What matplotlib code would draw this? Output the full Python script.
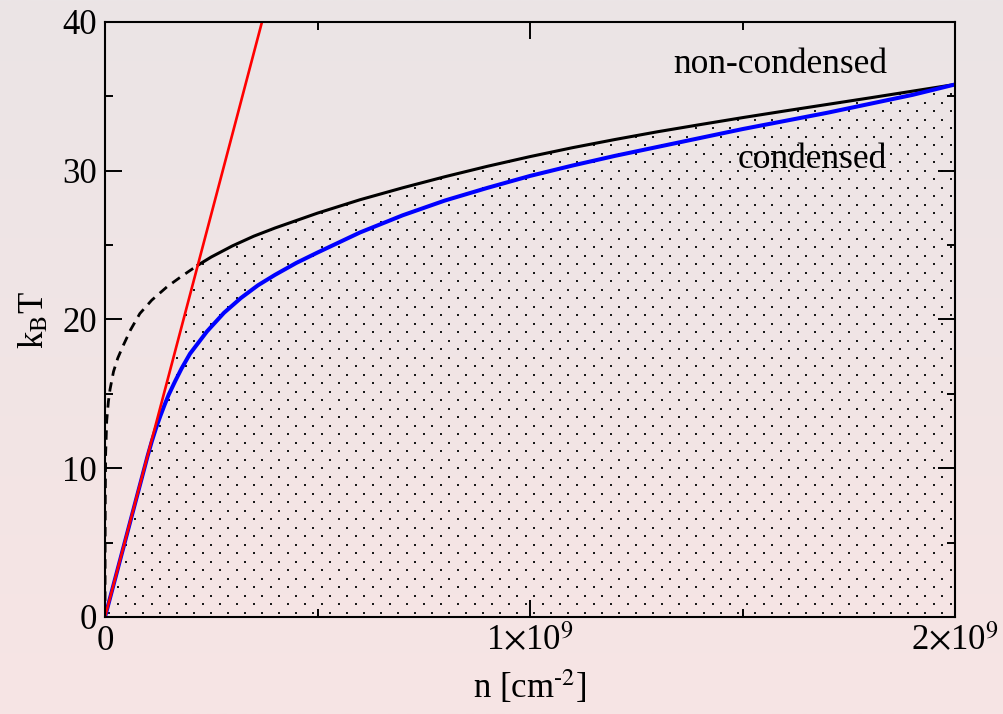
import numpy as np
import matplotlib
matplotlib.use("Agg")
import matplotlib.pyplot as plt
from matplotlib.colors import LinearSegmentedColormap
from matplotlib.patches import Polygon

plt.rcParams["font.family"] = ["Liberation Serif", "DejaVu Serif"]
plt.rcParams["mathtext.fontset"] = "stix"

# density n in units of 1e9 cm^-2, temperature k_B T
black_n = [0.0, 0.0002, 0.0006, 0.0015, 0.004, 0.008, 0.0118, 0.02, 0.03, 0.042,
           0.06, 0.082, 0.11, 0.146, 0.18, 0.219,
           0.25, 0.3, 0.35, 0.4, 0.5, 0.6, 0.7, 0.8, 0.9, 1.0,
           1.1, 1.2, 1.3, 1.4, 1.5, 1.6, 1.7, 1.8, 1.9, 2.0]
black_T = [0.0, 4.0, 8.0, 11.0, 13.2, 14.5, 15.3, 16.5, 17.4, 18.2,
           19.3, 20.4, 21.3, 22.2, 22.9, 23.66,
           24.2, 24.95, 25.6, 26.15, 27.15, 28.05, 28.85, 29.6, 30.3, 30.95,
           31.55, 32.1, 32.62, 33.1, 33.57, 34.02, 34.46, 34.9, 35.35, 35.8]
cross_idx = 15  # black curve is dashed up to the crossing with the red line

blue_n = [0.0, 0.05, 0.1, 0.11, 0.12, 0.13, 0.14, 0.15, 0.165, 0.18, 0.2,
          0.24, 0.28, 0.32, 0.36, 0.4, 0.45, 0.5, 0.6, 0.7, 0.8, 0.9, 1.0,
          1.1, 1.2, 1.3, 1.4, 1.5, 1.6, 1.7, 1.8, 1.9, 2.0]
blue_T = [0.0, 5.4, 10.8, 11.8, 12.7, 13.5, 14.25, 14.95, 15.85, 16.7, 17.7,
          19.2, 20.45, 21.45, 22.3, 23.0, 23.8, 24.5, 25.85, 27.0, 28.0, 28.85, 29.65,
          30.35, 31.0, 31.6, 32.2, 32.8, 33.35, 33.9, 34.5, 35.1, 35.8]

red_n = [0.0, 0.3693]
red_T = [0.0, 40.0]

xticks = [0.0, 1.0, 2.0]
xticklabels = ["0", r"1$\times$10$^{9}$", r"2$\times$10$^{9}$"]
yticks = [0, 10, 20, 30, 40]

fig = plt.figure(figsize=(10.04, 7.14), dpi=100)

# soft pink background gradient
bg = fig.add_axes([0, 0, 1, 1], zorder=-10)
cmap = LinearSegmentedColormap.from_list("bg", ["#ebe5e6", "#f7e4e4"])
bg.imshow(np.linspace(0, 1, 256).reshape(-1, 1), aspect="auto", cmap=cmap,
          extent=[0, 1, 0, 1], origin="upper")
bg.set_axis_off()

ax = fig.add_axes([0.1046, 0.1359, 0.8466, 0.8333])
ax.set_facecolor("none")

# condensed region: below the red line up to the crossing, then below the black curve
fill_n = [0.0] + black_n[cross_idx:] + [black_n[-1]]
fill_T = [0.0] + black_T[cross_idx:] + [0.0]
region = Polygon(np.column_stack([fill_n, fill_T]), closed=True,
                 facecolor="none", edgecolor="none", transform=ax.transData)
ax.add_patch(region)

# stippled texture: staggered dot lattice, ~17 px across, ~8.5 px between rows
w_px, h_px = 850.0, 595.0
rows = np.arange(0, h_px, 8.5)
gx, gy = [], []
for i, r in enumerate(rows):
    cols = np.arange(4.0 + (8.5 if i % 2 else 0.0), w_px, 17.0)
    gx.extend(cols / w_px)
    gy.extend(np.full(cols.shape, (r + 4.0) / h_px))
dots = ax.scatter(gx, gy, s=3.0, marker="s", color="#1a1a1a", linewidths=0,
                  transform=ax.transAxes, zorder=1)
dots.set_clip_path(region)

ax.plot(black_n[:cross_idx + 1], black_T[:cross_idx + 1], color="black", lw=2.0,
        ls=(0, (3.4, 2.4)), zorder=2)
ax.plot(black_n[cross_idx:], black_T[cross_idx:], color="black", lw=2.2, zorder=2)
ax.plot(blue_n, blue_T, color="blue", lw=2.9, zorder=3)
ax.plot(red_n, red_T, color="red", lw=1.9, zorder=4)

ax.text(1.84, 36.6, "non-condensed", ha="right", va="baseline", fontsize=25.5)
ax.text(1.84, 30.2, "condensed", ha="right", va="baseline", fontsize=25.5)

ax.set_xlim(0, 2.0)
ax.set_ylim(0, 40)
ax.set_xticks(xticks)
ax.set_xticklabels(xticklabels)
ax.set_xticks([0.5, 1.5], minor=True)
ax.set_yticks(yticks)
ax.set_yticks([5, 15, 25, 35], minor=True)
ax.tick_params(which="both", direction="in", top=True, right=True, width=1.4,
               labelsize=25)
ax.tick_params(which="major", length=12)
ax.tick_params(which="minor", length=6)
ax.tick_params(axis="x", which="major", pad=24)
ax.tick_params(axis="y", which="major", pad=6)
for lab in ax.get_xticklabels():
    lab.set_verticalalignment("baseline")
for sp in ax.spines.values():
    sp.set_linewidth(1.5)
    sp.set_zorder(5)

ax.set_xlabel(r"n [cm$^{\text{-}2}$]", fontsize=25, labelpad=7)
ax.set_ylabel(r"k$_{\rm B}$T", fontsize=25, labelpad=8)

fig.savefig("out.png", dpi=100)
